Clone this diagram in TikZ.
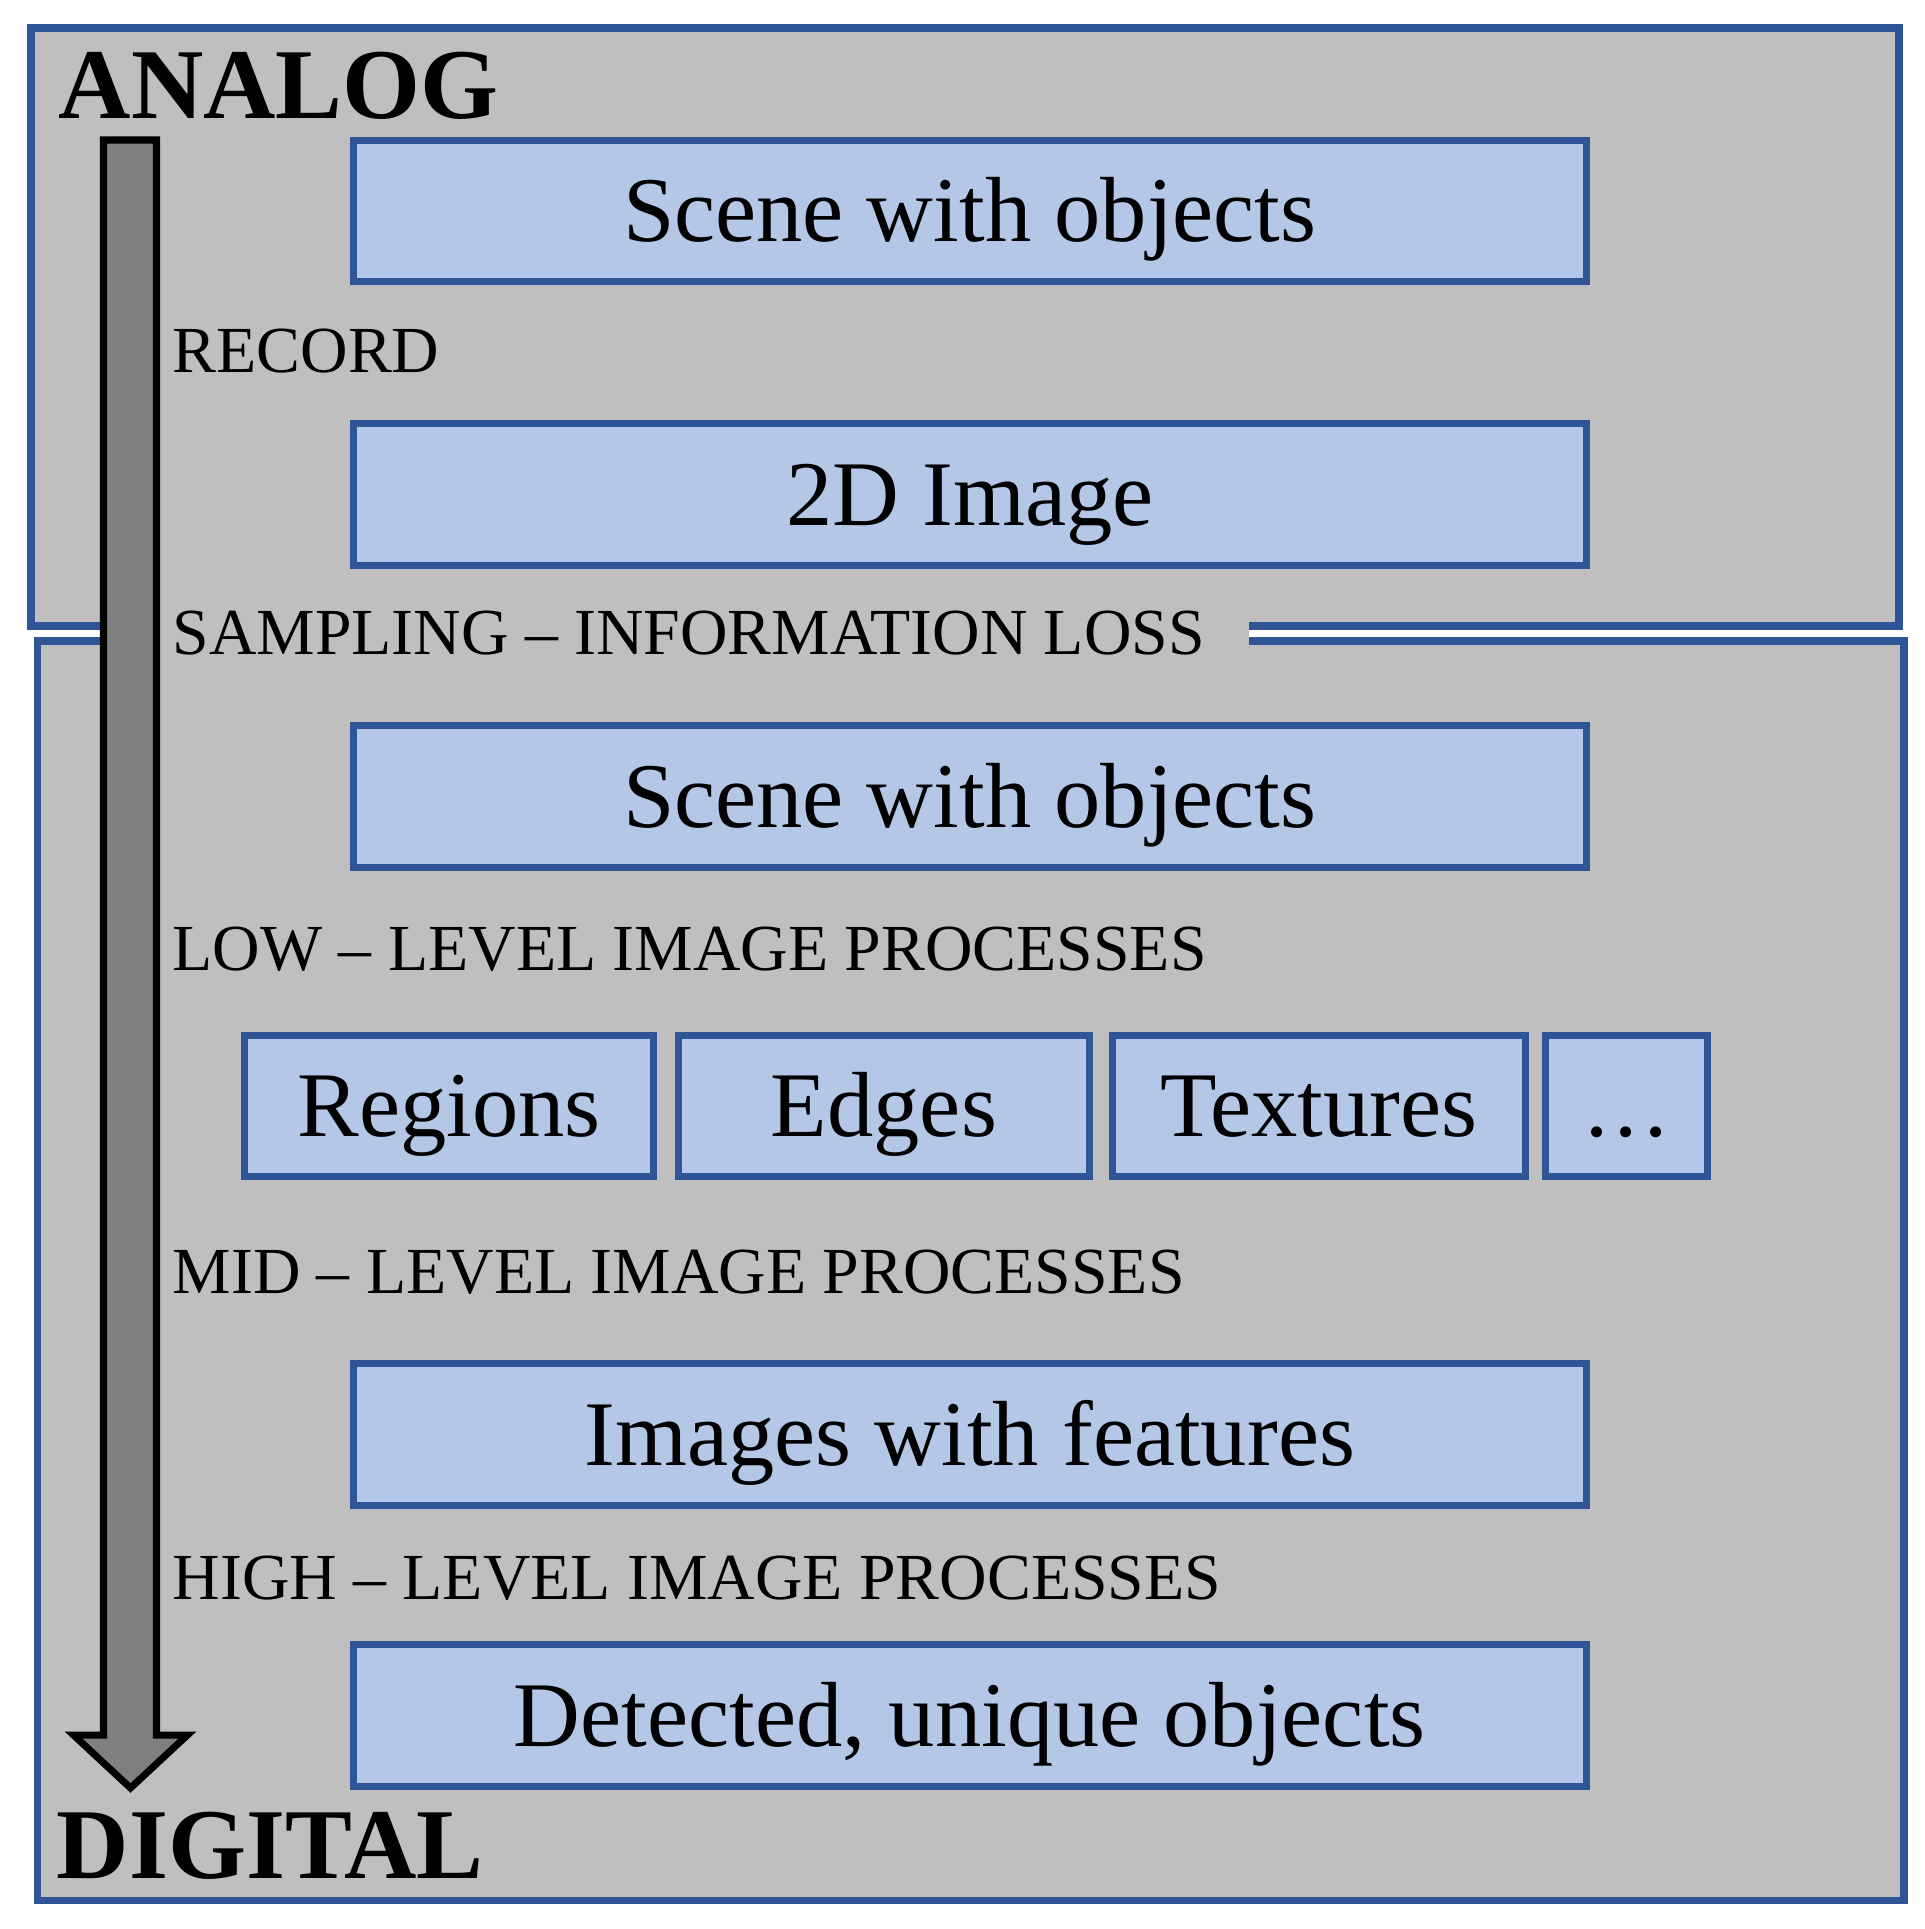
\documentclass[tikz,border=0pt]{standalone}
\usepackage{fontspec}
\setmainfont{Liberation Serif}
\definecolor{panelgray}{HTML}{BFBFBF}
\definecolor{boxblue}{HTML}{B4C7E7}
\definecolor{bordblue}{HTML}{2F5597}
\definecolor{arrowgray}{HTML}{7F7F7F}
\tikzset{
  panel/.style={draw=bordblue, fill=panelgray, line width=2pt},
  stepbox/.style={draw=bordblue, fill=boxblue, line width=2pt, inner sep=0pt,
    minimum height=1.41cm, text height=17.4pt, text depth=0pt,
    font=\fontsize{26.3}{31}\selectfont},
  widebox/.style={stepbox, minimum width=12.325cm},
  lbl/.style={anchor=base west, inner sep=0pt, font=\fontsize{18.7}{22}\selectfont},
  ttl/.style={anchor=base west, inner sep=0pt, font=\fontsize{28.5}{33}\selectfont\bfseries},
  bigarrow/.style={draw=black, fill=arrowgray, line width=2pt, miter limit=10}
}
\begin{document}
\begin{tikzpicture}[x=0.01cm, y=-0.01cm]
\useasboundingbox (0,0) rectangle (1925,1929);
% panels
\draw[panel] (31,28) rectangle (1899,626);
\draw[panel] (37.5,641) rectangle (1904,1900);
% patch behind sampling label
\fill[panelgray] (130,608) rectangle (1249,662);
% boxes
\node[widebox] (scene1) at (969.75,211) {Scene with objects};
\node[widebox] (img2d) at (969.75,494.5) {2D Image};
\node[widebox] (scene2) at (969.75,796.5) {Scene with objects};
\node[stepbox, minimum width=4.09cm] (regions) at (449,1106) {Regions};
\node[stepbox, minimum width=4.11cm] (edges) at (884,1106) {Edges};
\node[stepbox, minimum width=4.12cm] (textures) at (1319,1106) {Textures};
\node[stepbox, minimum width=1.62cm] (dots) at (1626.5,1106) {.\kern0.065em.\kern0.065em.};
\node[widebox] (features) at (969.75,1434.5) {Images with features};
\node[widebox] (detected) at (969.75,1715.5) {Detected, unique objects};
% labels
\node[lbl] (lrecord) at (172,372) {RECORD};
\node[lbl] (lsampling) at (172,654) {SAMPLING – INFORMATION LOSS};
\node[lbl] (llow) at (172,970) {LOW – LEVEL IMAGE PROCESSES};
\node[lbl] (lmid) at (172,1293) {MID – LEVEL IMAGE PROCESSES};
\node[lbl] (lhigh) at (172,1599) {HIGH – LEVEL IMAGE PROCESSES};
% titles
\node[ttl] (analog) at (58,118) {ANALOG};
\node[ttl] (digital) at (56,1878) {DIGITAL};
% big arrow
\draw[bigarrow] (103.5,140) -- (156.5,140) -- (156.5,1735) -- (187.5,1735)
  -- (130.5,1788) -- (73.5,1735) -- (103.5,1735) -- cycle;
\end{tikzpicture}
\end{document}
